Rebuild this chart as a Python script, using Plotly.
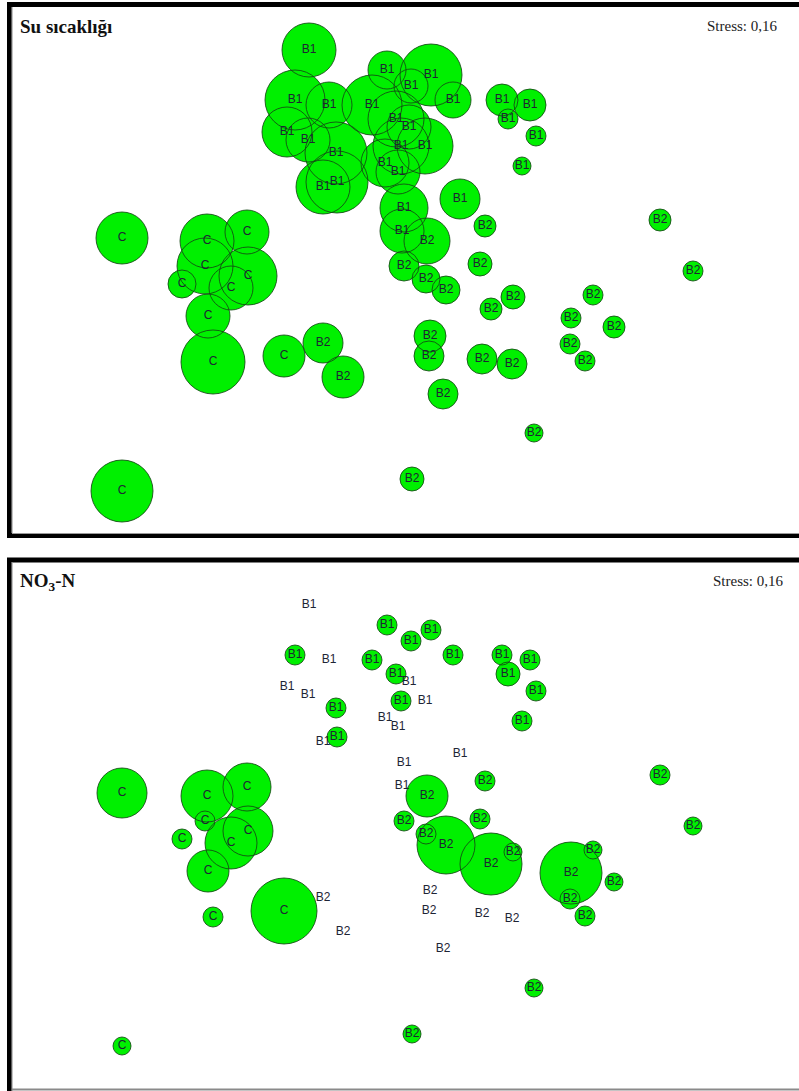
import numpy as np
import plotly.graph_objects as go

W, H = 799, 1091

# Sample groups
groups = ["C"] * 11 + ["B1"] * 27 + ["B2"] * 24

# NMDS ordination scores (axis 1)
nmds1 = [
    -2.78, -1.93, -1.53, -1.95, -2.18, -1.69, -1.52, -1.92, -1.87, -1.16, -2.78,
    -0.91, -0.13, 0.31, 0.11, -1.05, -0.71, -0.28, 0.53, 1.02, 1.30, 1.08, 1.36, 1.22,
    -0.04, 0.09, -1.13, -0.92, -0.64, 0.01, 0.25, -0.15, -0.02, -0.77, -0.63, 0.04, 0.60, 0.02,
    0.27, 0.04, 0.26, 0.46, 0.85, 0.80, 0.91, 1.13, 1.93, 1.71, 2.14, 1.70, 1.85,
    0.30, 0.29, 0.82, 1.12, 0.43, 1.34, 0.12, 2.60, 2.93, -0.77, -0.57,
]
# NMDS ordination scores (axis 2)
nmds2 = [
    0.62, 0.59, 0.68, 0.34, 0.16, 0.12, 0.24, -0.16, -0.62, -0.56, -1.91,
    2.50, 2.30, 2.25, 2.14, 2.00, 1.95, 1.95, 2.00, 2.00, 1.95, 1.81, 1.64, 1.34,
    1.81, 1.73, 1.68, 1.60, 1.47, 1.54, 1.54, 1.37, 1.28, 1.13, 1.18, 0.92, 1.01, 0.69,
    0.59, 0.34, 0.21, 0.10, 0.74, 0.36, -0.09, 0.03, 0.05, -0.18, -0.27, -0.44, -0.61,
    -0.36, -0.56, -0.59, -0.64, -0.94, -1.33, -1.79, 0.80, 0.29, -0.43, -0.77,
]
# Bubble magnitude: water temperature
temp_bubble = [
    26, 27, 22, 28, 14, 22, 29, 22, 32, 21, 31,
    27, 19, 31, 17, 30, 23, 30, 18, 16, 16, 10, 10, 9,
    28, 22, 25, 22, 31, 28, 28, 24, 22, 27, 31, 24, 20, 22,
    23, 15, 14, 14, 11, 12, 11, 12, 10, 10, 11, 10, 10,
    16, 15, 15, 15, 15, 9, 12, 11, 10, 20, 21,
]
# Bubble magnitude: nitrate nitrogen
no3_bubble = [
    25, 26, 24, 10, 10, 26, 25, 21, 10, 33, 9,
    0, 10, 10, 10, 10, 0, 10, 10, 10, 10, 12, 10, 10,
    10, 0, 0, 0, 10, 10, 0, 0, 0, 0, 10, 0, 0, 0,
    21, 10, 10, 29, 10, 10, 31, 9, 9, 31, 9, 10, 10,
    0, 0, 0, 0, 0, 9, 9, 10, 9, 0, 0,
]

panels = [
    ("Su sıcaklığı", temp_bubble),
    ("NO<sub>3</sub>-N", no3_bubble),
]
stress_text = "Stress: 0,16"

FILL = "#00f000"
EDGE = "rgba(20,70,20,0.85)"
TEXT = "#1e2434"

x = np.array(nmds1)
y = np.array(nmds2)
labels = np.array(groups)

fig = go.Figure()
for i, (title, bubble) in enumerate(panels):
    b = np.array(bubble, dtype=float)
    show = b > 0
    xa = "x" if i == 0 else "x2"
    ya = "y" if i == 0 else "y2"
    # bubble fills
    fig.add_trace(go.Scatter(
        x=x[show], y=y[show], mode="markers", xaxis=xa, yaxis=ya,
        marker=dict(size=b[show], sizemode="diameter", sizeref=0.5,
                    color=FILL, opacity=1, line=dict(width=0)),
        hoverinfo="skip", showlegend=False, cliponaxis=False,
    ))
    # bubble outlines on top of all fills
    fig.add_trace(go.Scatter(
        x=x[show], y=y[show], mode="markers", xaxis=xa, yaxis=ya,
        marker=dict(size=b[show], sizemode="diameter", sizeref=0.5,
                    color="rgba(0,0,0,0)", opacity=1,
                    line=dict(width=1, color=EDGE)),
        hoverinfo="skip", showlegend=False, cliponaxis=False,
    ))
    # sample group labels
    fig.add_trace(go.Scatter(
        x=x, y=y, mode="text", text=labels, xaxis=xa, yaxis=ya,
        textposition="middle center",
        textfont=dict(family="Liberation Sans, Arial, sans-serif", size=12, color=TEXT),
        hoverinfo="skip", showlegend=False, cliponaxis=False,
    ))


def px(v):
    return v / W


def py(v):
    return 1 - v / H


xr = [(12 - 400) / 100, (W - 400) / 100]
yr = [(300 - 533) / 100, (300 - 7) / 100]
axis_style = dict(visible=False, showgrid=False, zeroline=False, fixedrange=True)

fig.update_layout(
    width=W, height=H,
    margin=dict(l=0, r=0, t=0, b=0),
    paper_bgcolor="white", plot_bgcolor="white",
    xaxis=dict(domain=[px(12), 1], range=xr, anchor="y", **axis_style),
    yaxis=dict(domain=[py(533), py(7)], range=yr, anchor="x", **axis_style),
    xaxis2=dict(domain=[px(12), 1], range=xr, anchor="y2", **axis_style),
    yaxis2=dict(domain=[py(1088), py(562)], range=yr, anchor="x2", **axis_style),
)

# panel frames
shapes = []


def seg(x0, y0, x1, y1, w, c="black"):
    shapes.append(dict(type="line", xref="paper", yref="paper",
                       x0=px(x0), y0=py(y0), x1=px(x1), y1=py(y1),
                       line=dict(color=c, width=w)))


seg(7, 4.5, W, 4.5, 5)
seg(9.5, 2, 9.5, 538, 5)
seg(12, 7, 12, 533, 1.2, "#9a9a9a")
seg(12, 533.5, W, 533.5, 1.2, "#9a9a9a")
seg(7, 536, W, 536, 4)
seg(7, 560, W, 560, 5)
seg(9.5, 558, 9.5, H, 5)
seg(12, 562, 12, H, 1.2, "#9a9a9a")
seg(12, 1089.5, W, 1089.5, 2, "#8a8a8a")
fig.update_layout(shapes=shapes)

serif = "Liberation Serif, Times New Roman, serif"
ann = []
for i, (title, _) in enumerate(panels):
    off = 0 if i == 0 else 555
    ann.append(dict(text=f"<b>{title}</b>", xref="paper", yref="paper",
                    x=px(18), y=py(27 + off), xanchor="left", yanchor="middle",
                    showarrow=False, font=dict(family=serif, size=19, color="#111111")))
    ann.append(dict(text=stress_text, xref="paper", yref="paper",
                    x=px(780 + 6 * i), y=py(26 + off), xanchor="right", yanchor="middle",
                    showarrow=False, font=dict(family=serif, size=15, color="#222222")))
fig.update_layout(annotations=ann)

fig.write_html("out.html")
